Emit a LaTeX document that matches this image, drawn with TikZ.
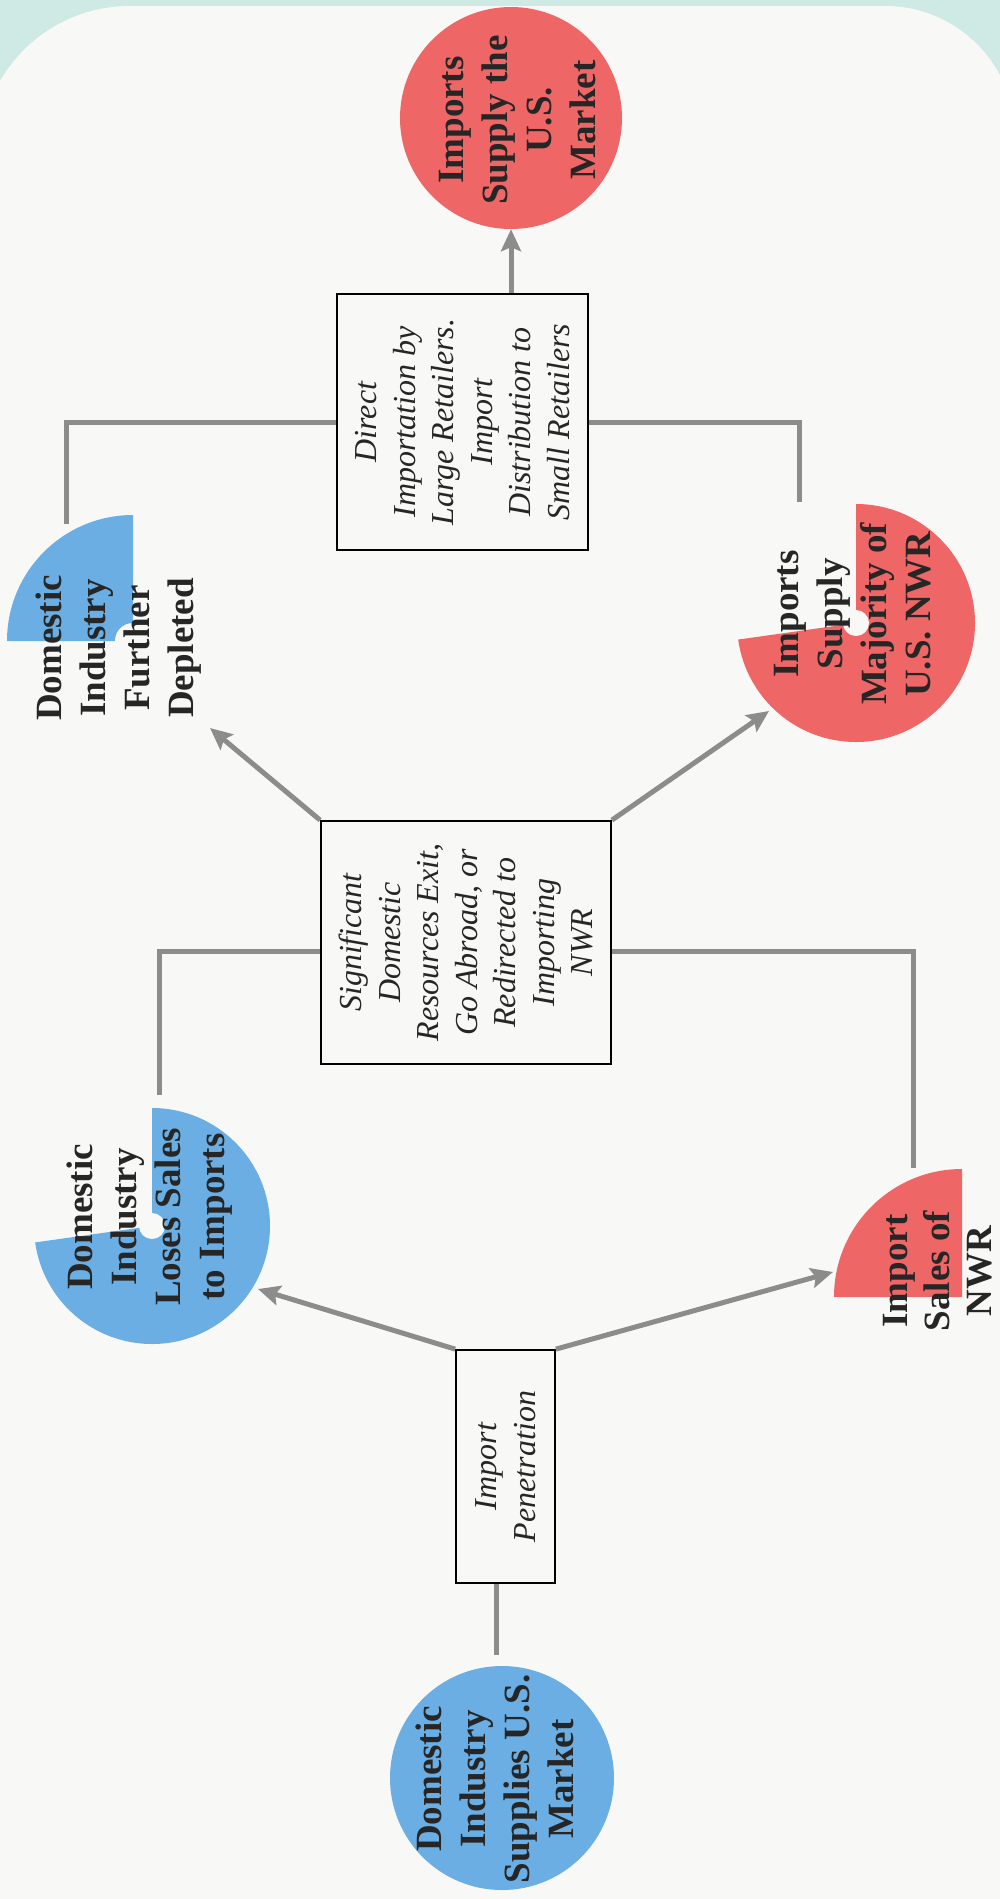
\documentclass[tikz,border=0pt]{standalone}
\usepackage{fontspec}
\setmainfont{Liberation Serif}
\usetikzlibrary{arrows.meta}
\definecolor{tealbg}{HTML}{CFE9E5}
\definecolor{pagec}{HTML}{F8F8F7}
\definecolor{blu}{HTML}{6AAEE3}
\definecolor{rd}{HTML}{EE6666}
\definecolor{gr}{HTML}{8C8C8C}
\definecolor{ink}{HTML}{262626}
\begin{document}
\begin{tikzpicture}[x=1pt,y=1pt,
  conn/.style={draw=gr, line width=5pt},
  arr/.style={draw=gr, line width=5pt, -{Stealth[length=22pt,width=20pt,inset=4pt]}},
  box/.style={draw=black, line width=1.8pt, inner sep=0pt},
  btxt/.style={rotate=90, align=center, text=ink, inner sep=0pt,
    font=\fontsize{37}{44}\selectfont\bfseries},
  itxt/.style={rotate=90, align=center, text=ink, inner sep=0pt,
    font=\fontsize{32}{38.5}\selectfont\itshape},
]
\useasboundingbox (0,0) rectangle (1000,-1899);
\fill[tealbg] (0,0) rectangle (1000,-1899);
\fill[pagec] (-20,-1950) -- (-20,-156) arc[start angle=180,end angle=90,radius=150]
  -- (885,-6) arc[start angle=90,end angle=0,radius=130] -- (1015,-1950) -- cycle;

% boxes and circles
\node[box, minimum width=251pt, minimum height=256pt] (bDir) at (462.5,-422) {};
\node[box, minimum width=290pt, minimum height=243pt] (bSig) at (466,-942.5) {};
\node[box, minimum width=99pt, minimum height=233pt] (bImp) at (505.5,-1466.5) {};
\node[circle, fill=rd, minimum size=222pt, inner sep=0pt] (cTop) at (511,-118) {};
\node[circle, fill=blu, minimum size=224pt, inner sep=0pt] (cBot) at (502,-1778) {};

% sector centres and connector ends
\coordinate (sDep) at (133,-641);
\coordinate (sMaj) at (856,-623);
\coordinate (sLos) at (152,-1226);
\coordinate (sImp) at (962,-1297);
\coordinate (eDep) at (66,-524);
\coordinate (eMaj) at (799,-502);
\coordinate (eLos) at (159,-1095);
\coordinate (eImpS) at (913,-1168);
\coordinate (eBot) at (496,-1655);
\coordinate (aDep) at (210,-728);
\coordinate (aMaj) at (769,-711);
\coordinate (aLos) at (258,-1289);
\coordinate (aImpS) at (833,-1272);

% connectors
\draw[conn] (bDir.west) -| (eDep);
\draw[conn] (bDir.east) -| (eMaj);
\draw[conn] ([yshift=-9pt]bSig.west) -| (eLos);
\draw[conn] ([yshift=-9pt]bSig.east) -| (eImpS);
\draw[conn] (bImp.south -| eBot) -- (eBot);
\draw[arr] (bDir.north -| cTop.south) -- (cTop.south);
\draw[arr] (bSig.north west) -- (aDep);
\draw[arr] (bSig.north east) -- (aMaj);
\draw[arr] (bImp.north west) -- (aLos);
\draw[arr] (bImp.north east) -- (aImpS);

% partial discs
\fill[blu] (sDep) -- ++(90:126) arc[start angle=90,end angle=180,radius=126] -- cycle;
\fill[pagec] (sDep) circle[radius=18];
\fill[rd] (sMaj) -- ++(90:119) arc[start angle=90,end angle=-172,radius=119] -- cycle;
\fill[pagec] (sMaj) circle[radius=13];
\fill[blu] (sLos) -- ++(90:118) arc[start angle=90,end angle=-172,radius=118] -- cycle;
\fill[pagec] (sLos) circle[radius=13];
\fill[rd] (sImp) -- ++(90:128) arc[start angle=90,end angle=180,radius=128] -- cycle;

% texts
\node[itxt] (tDir) at (bDir) {Direct\\Importation by\\Large Retailers.\\Import\\Distribution to\\Small Retailers};
\node[itxt] (tSig) at (bSig) {Significant\\Domestic\\Resources Exit,\\Go Abroad, or\\Redirected to\\Importing\\NWR};
\node[itxt] (tImp) at (bImp) {Import\\Penetration};
\node[btxt] (tTop) at (518,-120) {Imports\\Supply the\\U.S.\\Market};
\node[btxt] (tBot) at (495,-1779) {Domestic\\Industry\\Supplies U.S.\\Market};
\node[btxt] (tDep) at (119,-648) {Domestic\\Industry\\Further\\Depleted};
\node[btxt] (tMaj) at (853,-614) {Imports\\Supply\\Majority of\\U.S. NWR};
\node[btxt] (tLos) at (150,-1217) {Domestic\\Industry\\Loses Sales\\to Imports};
\node[btxt, font=\fontsize{37}{42}\selectfont\bfseries] (tImpS) at (938,-1271) {Import\\Sales of\\NWR};
\end{tikzpicture}
\end{document}
